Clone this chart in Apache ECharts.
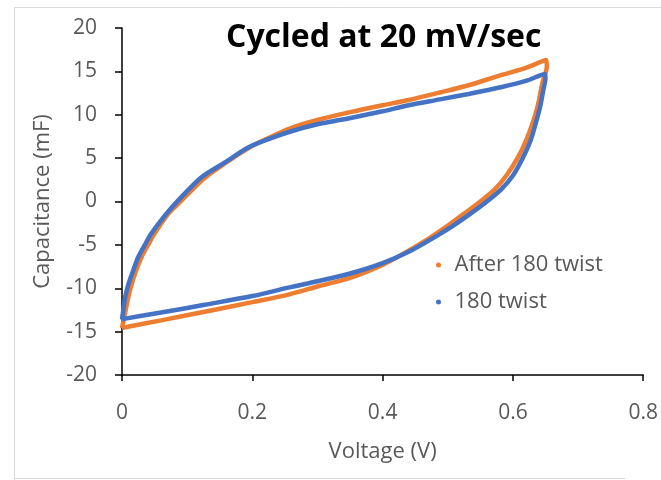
<!DOCTYPE html>
<html>
<head>
<meta charset="utf-8">
<script src="https://cdn.jsdelivr.net/npm/echarts@6/dist/echarts.min.js"></script>
<style>html,body{margin:0;padding:0;background:#fff}#c{width:661px;height:480px}</style>
</head>
<body>
<div id="c"></div>
<script>
var titleText = 'Cycled at 20 mV/sec';
var xName = 'Voltage (V)';
var yName = 'Capacitance (mF)';
var seriesNames = ['After 180 twist', '180 twist'];
var xTicks = [0, 0.2, 0.4, 0.6, 0.8];
var yTicks = [-20, -15, -10, -5, 0, 5, 10, 15, 20];

var afterTwist = [
  [0, -14.6], [0.003, -13.5], [0.007, -12], [0.012, -10.3], [0.02, -8.3], [0.03, -6.4],
  [0.04, -5], [0.05, -3.7], [0.07, -1.5], [0.09, 0], [0.125, 2.6], [0.16, 4.5],
  [0.195, 6.2], [0.23, 7.5], [0.26, 8.5], [0.3, 9.4], [0.35, 10.3], [0.4, 11.1],
  [0.44, 11.7], [0.49, 12.6], [0.532, 13.4], [0.583, 14.6], [0.62, 15.4], [0.651, 16.3],
  [0.652, 15.6], [0.645, 13.6], [0.638, 11], [0.63, 9], [0.62, 7], [0.607, 5],
  [0.59, 3], [0.572, 1.4], [0.55, 0], [0.525, -1.4], [0.498, -2.9], [0.47, -4.3],
  [0.43, -6.1], [0.4, -7.3], [0.35, -8.8], [0.3, -9.8], [0.257, -10.7], [0.2, -11.6],
  [0.127, -12.7], [0.06, -13.7], [0.005, -14.5], [0, -14.6]
];
var twist180 = [
  [0, -13.6], [0.002, -12.5], [0.005, -11], [0.01, -9.5], [0.017, -8], [0.025, -6.4],
  [0.035, -5], [0.045, -3.7], [0.066, -1.6], [0.086, 0.1], [0.122, 2.8], [0.158, 4.5],
  [0.193, 6.2], [0.229, 7.3], [0.26, 8.1], [0.3, 8.9], [0.349, 9.6], [0.4, 10.4],
  [0.44, 11.1], [0.49, 11.8], [0.532, 12.4], [0.583, 13.2], [0.62, 13.9], [0.649, 14.7],
  [0.65, 14.2], [0.647, 13], [0.642, 11], [0.635, 9], [0.627, 7], [0.615, 5],
  [0.6, 3], [0.582, 1.4], [0.56, 0], [0.535, -1.4], [0.508, -2.8], [0.48, -4.1],
  [0.44, -5.8], [0.4, -7.1], [0.35, -8.3], [0.3, -9.2], [0.257, -9.9], [0.2, -10.9],
  [0.127, -11.9], [0.06, -12.8], [0.005, -13.5], [0, -13.6]
];

var FONT = '"Open Sans", sans-serif';
var GRAY = '#595959';
var chart = echarts.init(document.getElementById('c'), null, {renderer: 'canvas'});
chart.setOption({
  animation: false,
  backgroundColor: '#fff',
  grid: {left: 122, right: 16, top: 28, bottom: 105},
  graphic: [
    {type: 'line', shape: {x1: 14, y1: 7.5, x2: 661, y2: 7.5}, style: {stroke: '#d9d9d9', lineWidth: 1}},
    {type: 'line', shape: {x1: 14.5, y1: 7, x2: 14.5, y2: 480}, style: {stroke: '#d9d9d9', lineWidth: 1}},
    {type: 'line', shape: {x1: 14, y1: 478.5, x2: 625, y2: 478.5}, style: {stroke: '#d9d9d9', lineWidth: 1}},
    {type: 'text', left: 226, top: 22, style: {text: titleText, font: 'bold 32px ' + FONT, fill: '#000'}}
  ],
  legend: {
    data: seriesNames,
    orient: 'vertical',
    left: 431, top: 249,
    icon: 'circle',
    itemWidth: 22, itemHeight: 5, itemGap: 15,
    textStyle: {fontFamily: FONT, fontSize: 22, color: GRAY, lineHeight: 22}
  },
  xAxis: {
    type: 'value', min: 0, max: 0.8, interval: 0.2,
    name: xName, nameLocation: 'middle', nameGap: 66,
    nameTextStyle: {fontFamily: FONT, fontSize: 22, color: GRAY},
    axisLine: {onZero: false, lineStyle: {color: '#000', width: 1.5}},
    axisTick: {show: true, length: 6, inside: false, lineStyle: {color: '#000', width: 1.5}},
    axisLabel: {fontFamily: FONT, fontSize: 21, color: GRAY, margin: 28,
      customValues: xTicks, formatter: function (v) { return String(+v.toFixed(1)); }},
    splitLine: {show: false}
  },
  yAxis: {
    type: 'value', min: -20, max: 20, interval: 5,
    name: yName, nameLocation: 'middle', nameGap: 68,
    nameTextStyle: {fontFamily: FONT, fontSize: 22, color: GRAY},
    axisLine: {show: true, onZero: false, lineStyle: {color: '#000', width: 1.5}},
    axisTick: {show: true, length: 7, inside: false, lineStyle: {color: '#000', width: 1.5}},
    axisLabel: {fontFamily: FONT, fontSize: 21, color: GRAY, margin: 25, customValues: yTicks},
    splitLine: {show: false}
  },
  series: [
    {name: seriesNames[0], type: 'line', data: afterTwist, smooth: 0.3, showSymbol: false, symbol: 'circle',
      color: '#ED7D31', lineStyle: {width: 4.5, color: '#ED7D31'}},
    {name: seriesNames[1], type: 'line', data: twist180, smooth: 0.3, showSymbol: false, symbol: 'circle',
      color: '#4472C4', lineStyle: {width: 4.5, color: '#4472C4'}}
  ]
});
</script>
</body>
</html>
